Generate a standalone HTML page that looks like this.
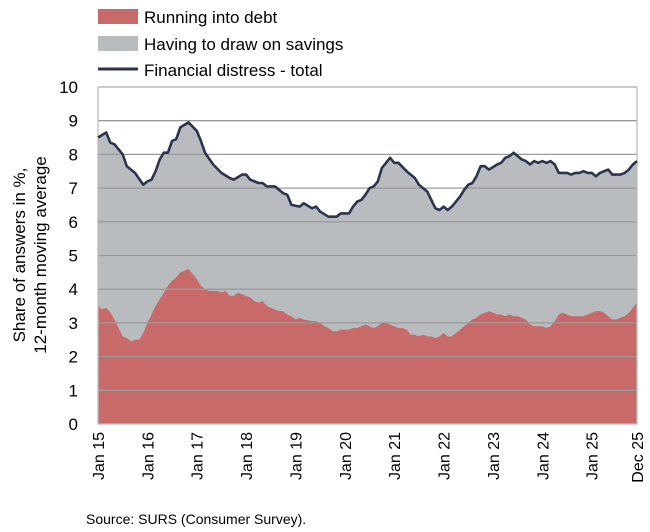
<!DOCTYPE html>
<html><head><meta charset="utf-8"><style>
body{margin:0;background:#fff;}
svg{display:block;font-family:"Liberation Sans",sans-serif;}
</style></head><body>
<svg id="s" width="650" height="532" xmlns="http://www.w3.org/2000/svg"></svg>
<script>
const T=[[0,8.5],[2,8.65],[3,8.35],[4,8.3],[6,8.0],[7,7.65],[9,7.45],[11,7.1],[12,7.2],[13,7.25],[14,7.5],[15,7.85],[16,8.05],[17,8.05],[18,8.4],[19,8.45],[20,8.8],[22,8.95],[24,8.7],[25,8.4],[26,8.05],[28,7.7],[30,7.45],[32,7.3],[33,7.25],[35,7.4],[36,7.4],[37,7.25],[39,7.15],[40,7.15],[41,7.05],[43,7.05],[45,6.85],[46,6.8],[47,6.5],[49,6.45],[50,6.55],[52,6.4],[53,6.45],[54,6.3],[56,6.15],[58,6.15],[59,6.25],[61,6.25],[62,6.45],[63,6.6],[64,6.65],[65,6.8],[66,7.0],[67,7.05],[68,7.2],[69,7.6],[71,7.9],[72,7.75],[73,7.75],[75,7.5],[77,7.3],[78,7.1],[80,6.9],[81,6.65],[82,6.4],[83,6.35],[84,6.45],[85,6.35],[86,6.45],[87,6.6],[88,6.75],[89,6.95],[90,7.1],[91,7.15],[92,7.35],[93,7.65],[94,7.65],[95,7.55],[97,7.7],[98,7.75],[99,7.9],[100,7.95],[101,8.05],[102,7.95],[103,7.85],[104,7.8],[105,7.7],[106,7.8],[107,7.75],[108,7.8],[109,7.75],[110,7.8],[111,7.7],[112,7.45],[113,7.45],[114,7.45],[115,7.4],[116,7.45],[117,7.45],[118,7.5],[119,7.45],[120,7.45],[121,7.35],[122,7.45],[123,7.5],[124,7.55],[125,7.4],[126,7.4],[127,7.4],[128,7.45],[129,7.55],[130,7.7],[131,7.8]];
const D=[3.5,3.4,3.45,3.3,3.1,2.85,2.6,2.55,2.45,2.5,2.5,2.7,3.0,3.25,3.5,3.7,3.9,4.1,4.25,4.35,4.5,4.55,4.6,4.45,4.3,4.1,4.0,3.95,3.95,3.95,3.9,3.95,3.8,3.8,3.9,3.85,3.8,3.75,3.65,3.6,3.65,3.5,3.45,3.4,3.35,3.35,3.25,3.2,3.1,3.15,3.1,3.08,3.05,3.05,3.0,2.9,2.85,2.75,2.75,2.8,2.8,2.8,2.85,2.85,2.9,2.95,2.9,2.85,2.9,3.0,3.0,2.95,2.9,2.85,2.85,2.8,2.65,2.65,2.6,2.65,2.6,2.6,2.55,2.6,2.7,2.6,2.6,2.7,2.8,2.9,3.0,3.1,3.15,3.25,3.3,3.35,3.3,3.25,3.25,3.2,3.25,3.2,3.2,3.15,3.1,2.95,2.9,2.9,2.9,2.85,2.9,3.05,3.25,3.3,3.25,3.2,3.2,3.2,3.2,3.25,3.3,3.35,3.35,3.3,3.2,3.1,3.1,3.15,3.2,3.3,3.45,3.6];
const X0=98,X1=637,Y0=424,U=33.7;
const x=m=>X0+m*(X1-X0)/131, y=v=>Y0-v*U;
let h='';
// grey area
let tp=T.map(p=>x(p[0]).toFixed(1)+','+y(p[1]).toFixed(1)).join(' ');
h+=`<polygon points="${X0},${Y0} ${tp} ${X1},${Y0}" fill="#b9bcbf"/>`;
let dp=D.map((v,i)=>x(i).toFixed(1)+','+y(v).toFixed(1)).join(' ');
h+=`<polygon points="${X0},${Y0} ${dp} ${X1},${Y0}" fill="#c86a6a"/>`;
for(let i=1;i<=10;i++){h+=`<line x1="${X0}" x2="${X1}" y1="${y(i)}" y2="${y(i)}" stroke="#9a9a9a" stroke-width="1.3"/>`;}
h+=`<rect x="${X0}" y="${y(10)}" width="${X1-X0}" height="${10*U}" fill="none" stroke="#bdbdbd" stroke-width="1.3"/>`;
h+=`<polyline points="${tp}" fill="none" stroke="#2c3550" stroke-width="2.6" stroke-linejoin="round"/>`;
for(let i=0;i<=10;i++){h+=`<text x="78" y="${y(i)+6}" font-size="17" text-anchor="end" fill="#000">${i}</text>`;}
const L=['Jan 15','Jan 16','Jan 17','Jan 18','Jan 19','Jan 20','Jan 21','Jan 22','Jan 23','Jan 24','Jan 25'];
L.forEach((t,i)=>{let xx=x(i*12);h+=`<text transform="translate(${xx+6},432) rotate(-90)" font-size="16" text-anchor="end">${t}</text>`;});
h+=`<text transform="translate(${X1+6},432) rotate(-90)" font-size="16" text-anchor="end">Dec 25</text>`;
h+=`<text transform="translate(25,255) rotate(-90)" font-size="17" text-anchor="middle">Share of answers in %,</text>`;
h+=`<text transform="translate(46,255) rotate(-90)" font-size="17" text-anchor="middle">12-month moving average</text>`;
h+=`<rect x="98" y="9" width="40" height="15" fill="#c86a6a"/><text x="144" y="23" font-size="17">Running into debt</text>`;
h+=`<rect x="98" y="36" width="40" height="15" fill="#b9bcbf"/><text x="144" y="50" font-size="17">Having to draw on savings</text>`;
h+=`<line x1="98" x2="138" y1="69" y2="69" stroke="#2c3550" stroke-width="3"/><text x="144" y="76" font-size="17">Financial distress - total</text>`;
h+=`<text x="86" y="524" font-size="14">Source: SURS (Consumer Survey).</text>`;
document.getElementById('s').innerHTML=h;
</script>
</body></html>
